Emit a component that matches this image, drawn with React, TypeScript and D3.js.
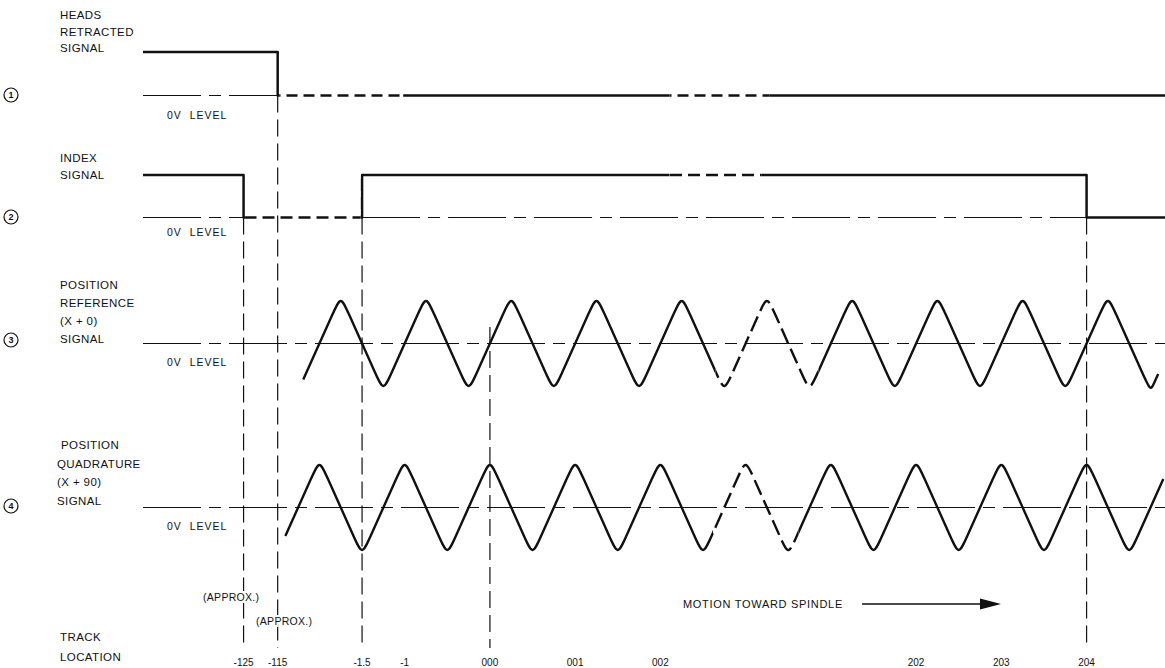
import React from 'react';
import * as d3 from 'd3';

// ---------------- DATA ----------------
// Track axis (positions in track pitches; a break separates 002 and 202)
const tickLabels = ['-125', '-115', '-1.5', '-1', '000', '001', '002', '202', '203', '204'];
const tickTracks = [-2.89, -2.49, -1.5, -1, 0, 1, 2, 5, 6, 7];
const markerTracks = [-2.89, -2.49, -1.5, 0, 7];
const axisDomain = [-4.07, 7.92];

// 1: Heads retracted signal (step levels: 1 = high, 0 = 0V)
const headsTracks = [-4.07, -2.49, 7.92];
const headsLevels = [1, 0, 0];
const headsDashed = [[-2.49, -1.0], [2.09, 3.3]];

// 2: Index signal
const indexTracks = [-4.07, -2.89, -1.5, 7.0, 7.92];
const indexLevels = [1, 0, 1, 0, 0];
const indexDashed = [[-2.89, -1.5], [2.09, 3.2]];

// 3: Position reference (X + 0) — vertices of the waveform
const refTracks = [-2.19, -1.75, -1.25, -0.75, -0.25, 0.25, 0.75, 1.25, 1.75, 2.25, 2.75, 3.25, 3.75, 4.25, 4.75, 5.25, 5.75, 6.25, 6.75, 7.25, 7.75, 7.84];
const refLevels = [-0.76, 1, -1, 1, -1, 1, -1, 1, -1, 1, -1, 1, -1, 1, -1, 1, -1, 1, -1, 1, -1, -0.64];
const refDashed = [[2.63, 3.87]];

// 4: Position quadrature (X + 90)
const quadTracks = [-2.4, -2, -1.5, -1, -0.5, 0, 0.5, 1, 1.5, 2, 2.5, 3, 3.5, 4, 4.5, 5, 5.5, 6, 6.5, 7, 7.5, 7.9];
const quadLevels = [-0.6, 1, -1, 1, -1, 1, -1, 1, -1, 1, -1, 1, -1, 1, -1, 1, -1, 1, -1, 1, -1, 0.6];
const quadDashed = [[2.6, 3.64]];

const rowTitles = [
  ['HEADS', 'RETRACTED', 'SIGNAL'],
  ['INDEX', 'SIGNAL'],
  ['POSITION', 'REFERENCE', '(X + 0)', 'SIGNAL'],
  ['POSITION', 'QUADRATURE', '(X + 90)', 'SIGNAL'],
];
const rowNumbers = ['1', '2', '3', '4'];

// ---------------- LAYOUT ----------------
const W = 1165;
const H = 668;
const FONT = '"Liberation Sans", Arial, sans-serif';
const INK = '#111';

const x = d3.scaleLinear().domain(axisDomain).range([143, 1165]);

const stepRows = [
  { high: 52, zero: 95.5 },
  { high: 175, zero: 217.5 },
];
const waveRows = [
  { center: 343.5 },
  { center: 507.5 },
];
const WAVE_AMP = 47.5;
const ROUND = 9;

const yStep = (r: number) => d3.scaleLinear().domain([0, 1]).range([stepRows[r].zero, stepRows[r].high]);
const yWave = (r: number) =>
  d3.scaleLinear().domain([-1, 1]).range([waveRows[r].center + WAVE_AMP, waveRows[r].center - WAVE_AMP]);

function stepPath(tracks: number[], levels: number[], y: d3.ScaleLinear<number, number>) {
  const pts = tracks.map((t, i) => [t, levels[i]] as [number, number]);
  return d3
    .line<[number, number]>()
    .x((d) => x(d[0]))
    .y((d) => y(d[1]))
    .curve(d3.curveStepAfter)(pts) as string;
}

function wavePath(tracks: number[], levels: number[], y: d3.ScaleLinear<number, number>) {
  const P = tracks.map((t, i) => ({ x: x(t), y: y(levels[i]) }));
  const p = d3.path();
  p.moveTo(P[0].x, P[0].y);
  for (let i = 1; i < P.length - 1; i++) {
    const a = P[i - 1], v = P[i], b = P[i + 1];
    const ta = Math.min(ROUND / (v.x - a.x), 0.5);
    const tb = Math.min(ROUND / (b.x - v.x), 0.5);
    p.lineTo(v.x + (a.x - v.x) * ta, v.y + (a.y - v.y) * ta);
    p.bezierCurveTo(v.x, v.y, v.x, v.y, v.x + (b.x - v.x) * tb, v.y + (b.y - v.y) * tb);
  }
  p.lineTo(P[P.length - 1].x, P[P.length - 1].y);
  return p.toString();
}

const INSET = 1.5;
function ClipDefs({ id, ranges }: { id: string; ranges: number[][] }) {
  const solid: [number, number][] = [];
  let start = 0;
  ranges.forEach(([a, b]) => {
    solid.push([start, x(a) + INSET]);
    start = x(b) - INSET;
  });
  solid.push([start, W]);
  return (
    <>
      <clipPath id={`${id}-solid`}>
        {solid.map(([a, b], i) => (
          <rect key={i} x={a} y={0} width={Math.max(0, b - a)} height={H} />
        ))}
      </clipPath>
      <clipPath id={`${id}-dash`}>
        {ranges.map(([a, b], i) => (
          <rect key={i} x={x(a) + INSET} y={0} width={x(b) - x(a) - 2 * INSET} height={H} />
        ))}
      </clipPath>
    </>
  );
}

function Signal({ id, d, dash, width }: { id: string; d: string; dash: string; width: number }) {
  return (
    <g fill="none" stroke={INK} strokeWidth={width} strokeLinejoin="round">
      <path d={d} clipPath={`url(#${id}-solid)`} />
      <path d={d} clipPath={`url(#${id}-dash)`} strokeDasharray={dash} />
    </g>
  );
}

export default function App() {
  const headsD = stepPath(headsTracks, headsLevels, yStep(0));
  const indexD = stepPath(indexTracks, indexLevels, yStep(1));
  const refD = wavePath(refTracks, refLevels, yWave(0));
  const quadD = wavePath(quadTracks, quadLevels, yWave(1));

  const zeroYs = [stepRows[0].zero, stepRows[1].zero, waveRows[0].center, waveRows[1].center];
  const zeroRanges: number[][][] = [
    [[axisDomain[0], headsTracks[1]]],
    [[axisDomain[0], indexTracks[1]], [indexTracks[2], indexTracks[3]]],
    [[axisDomain[0], axisDomain[1]]],
    [[axisDomain[0], axisDomain[1]]],
  ];
  const circleYs = [95, 217, 340, 506];
  const titleTops = [19, 162, 289, 449];
  const titleX = [[60, 60, 60], [60, 60], [60, 60, 60, 60], [61, 57, 57, 57]];
  const titleStep = [16.5, 17, 18, 18.5];
  const markerTop = [stepRows[1].zero, stepRows[0].zero, stepRows[1].zero, 327, stepRows[1].zero];
  const markerBottom = 648;
  const oVYs = [119, 236, 366, 530];

  return (
    <svg
      width={W}
      height={H}
      viewBox={`0 0 ${W} ${H}`}
      style={{ position: 'absolute', left: 0, top: 0, background: '#fff' }}
      fontFamily={FONT}
    >
      <rect x={0} y={0} width={W} height={H} fill="#fff" />
      <defs>
        <ClipDefs id="heads" ranges={headsDashed} />
        <ClipDefs id="index" ranges={indexDashed} />
        <ClipDefs id="ref" ranges={refDashed} />
        <ClipDefs id="quad" ranges={quadDashed} />
      </defs>

      {/* 0V reference lines */}
      <g stroke={INK} strokeWidth={1.2} fill="none" strokeDasharray="58 8 12 8">
        {zeroRanges.map((rs, r) =>
          rs.map(([a, b], i) => <line key={`${r}-${i}`} x1={x(a)} x2={x(b)} y1={zeroYs[r]} y2={zeroYs[r]} />)
        )}
      </g>

      {/* vertical markers */}
      <g stroke={INK} strokeWidth={1.2} strokeDasharray="17 7">
        {markerTracks.map((t, i) => (
          <line key={i} x1={x(t)} x2={x(t)} y1={markerTop[i]} y2={markerBottom} />
        ))}
      </g>

      {/* signals */}
      <Signal id="heads" d={headsD} dash="11 6" width={2.5} />
      <Signal id="index" d={indexD} dash="12 6" width={2.5} />
      <Signal id="ref" d={refD} dash="16 6" width={2.4} />
      <Signal id="quad" d={quadD} dash="16 6" width={2.4} />

      {/* row titles, numbers, 0V labels */}
      {rowTitles.map((lines, r) => (
        <g key={r}>
          {lines.map((s, i) => (
            <text
              key={i}
              x={titleX[r][i]}
              y={titleTops[r] + i * titleStep[r]}
              fontSize={11.5}
              letterSpacing={0.4}
              fill={INK}
            >
              {s}
            </text>
          ))}
          <circle cx={11} cy={circleYs[r]} r={7} fill="none" stroke={INK} strokeWidth={1.2} />
          <text
            x={11}
            y={circleYs[r] + 3.3}
            fontSize={9}
            fontWeight="bold"
            textAnchor="middle"
            fill={INK}
          >
            {rowNumbers[r]}
          </text>
          <text x={167} y={oVYs[r]} fontSize={10.5} letterSpacing={1} fill={INK} xmlSpace="preserve">
            {'0V  LEVEL'}
          </text>
        </g>
      ))}

      {/* approx labels */}
      <g fontSize={10.5} fill={INK} stroke="#fff" strokeWidth={4} style={{ paintOrder: 'stroke' }} letterSpacing={0.3}>
        <text x={203} y={601}>(APPROX.)</text>
        <text x={256} y={625}>(APPROX.)</text>
      </g>

      {/* track location */}
      <text x={60} y={641} fontSize={11.5} letterSpacing={0.4} fill={INK}>TRACK</text>
      <text x={60} y={661} fontSize={11.5} letterSpacing={0.4} fill={INK}>LOCATION</text>
      <g fontSize={10} fill={INK} textAnchor="middle">
        {tickLabels.map((s, i) => (
          <text key={i} x={x(tickTracks[i])} y={666}>
            {s}
          </text>
        ))}
      </g>

      {/* motion arrow */}
      <text x={683} y={608} fontSize={11} letterSpacing={0.7} fill={INK}>MOTION TOWARD SPINDLE</text>
      <line x1={862} x2={985} y1={604} y2={604} stroke={INK} strokeWidth={1.6} />
      <path d="M1001,604 L980,598.5 L980,609.5 Z" fill={INK} />
    </svg>
  );
}
